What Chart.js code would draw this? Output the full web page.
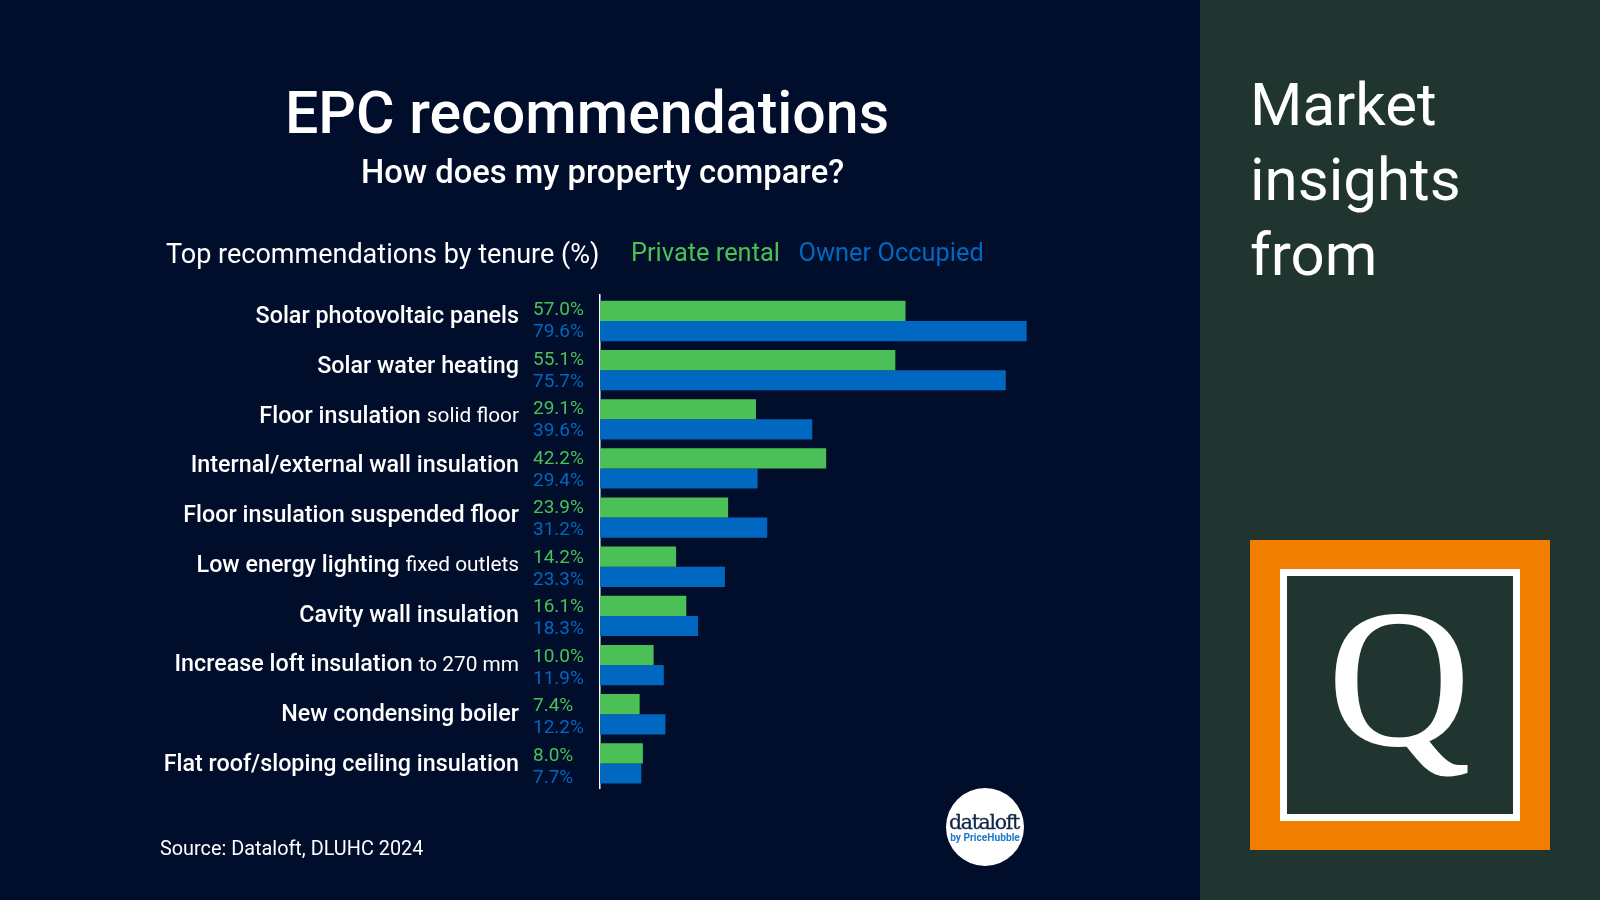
<!DOCTYPE html>
<html lang="en">
<head>
    <meta charset="UTF-8">
    <title>EPC recommendations</title>
    <script src="https://cdn.jsdelivr.net/npm/chart.js"></script>
    <style>
        html, body { margin: 0; padding: 0; background: #000d2b; }
        body { width: 1600px; height: 900px; overflow: hidden; position: relative; font-family: Roboto, sans-serif; color: #fff; }
        .txt { position: absolute; white-space: nowrap; line-height: 1; }
        #side { position: absolute; left: 1200px; top: 0; width: 400px; height: 900px; background: #20352f; }
        #logo { position: absolute; left: 1250px; top: 540px; width: 300px; height: 310px; background: #f27e00; }
        #logoIn { position: absolute; left: 30px; top: 29px; width: 226px; height: 238px; border: 7px solid #fff; background: #20352f; }
        #badge { position: absolute; left: 946px; top: 788px; width: 78px; height: 78px; border-radius: 50%; background: #fff; }
        canvas { position: absolute; left: 0; top: 0; }
    </style>
</head>
<body>
    <canvas id="epcChart" width="1200" height="900"></canvas>

    <div class="txt" style="left:285px;top:83px;font-size:59px;font-weight:500">EPC recommendations</div>
    <div class="txt" style="left:361px;top:156px;font-size:32.75px;font-weight:500">How does my property compare?</div>
    <div class="txt" style="left:166px;top:240.5px;font-size:27px">Top recommendations by tenure (%)</div>
    <div class="txt" style="left:631px;top:240px;font-size:25.4px;color:#4bc057">Private rental</div>
    <div class="txt" style="left:798.5px;top:240px;font-size:25.4px;color:#0068c0">Owner Occupied</div>
    <div class="txt" style="left:160px;top:839px;font-size:19.85px">Source: Dataloft, DLUHC 2024</div>

    <div id="badge"></div>
    <div class="txt" style="left:946px;top:812px;width:76px;text-align:center;font-family:'DejaVu Serif';font-size:20.5px;color:#12284a;letter-spacing:-1.3px;-webkit-text-stroke:0.3px #12284a">dataloft</div>
    <div class="txt" style="left:947px;top:833px;width:76px;text-align:center;font-size:10.2px;font-weight:700;color:#1f78c8">by PriceHubble</div>

    <div id="side"></div>
    <div class="txt" style="left:1250px;top:67px;font-size:60px;line-height:75px">Market<br>insights<br>from</div>
    <div id="logo"><div id="logoIn"></div></div>
    <div class="txt" style="left:1299px;top:580px;width:200px;text-align:center;font-family:'Liberation Serif';font-size:196px;-webkit-text-stroke:2px #fff">Q</div>

    <script>
        const categories = [
            'Solar photovoltaic panels',
            'Solar water heating',
            'Floor insulation',
            'Internal/external wall insulation',
            'Floor insulation suspended floor',
            'Low energy lighting',
            'Cavity wall insulation',
            'Increase loft insulation',
            'New condensing boiler',
            'Flat roof/sloping ceiling insulation'
        ];
        // lighter small text after some of the labels
        const labelNotes = ['', '', 'solid floor', '', '', 'fixed outlets', '', 'to 270 mm', '', ''];
        const privateRental = [57.0, 55.1, 29.1, 42.2, 23.9, 14.2, 16.1, 10.0, 7.4, 8.0];
        const ownerOccupied = [79.6, 75.7, 39.6, 29.4, 31.2, 23.3, 18.3, 11.9, 12.2, 7.7];

        const green = '#4bc057';
        const blue = '#0068c0';

        // row labels left of the axis, and the value next to them
        const rowText = {
            id: 'rowText',
            afterDatasetsDraw(chart) {
                const c = chart.ctx;
                const yScale = chart.scales.y;
                c.save();
                // axis line starts a little above the first row
                c.fillStyle = '#fff';
                c.fillRect(chart.chartArea.left - 1, 294, 1.5, chart.chartArea.top - 294);
                c.textBaseline = 'middle';
                categories.forEach((name, i) => {
                    const y = yScale.getPixelForValue(i) - 3.5 + i * 0.55;
                    let x = 519;
                    c.textAlign = 'right';
                    c.fillStyle = '#fff';
                    if (labelNotes[i]) {
                        c.font = '400 20.8px Roboto';
                        c.fillText(labelNotes[i], x, y);
                        x -= c.measureText(labelNotes[i]).width + 6;
                    }
                    c.font = '500 23.3px Roboto';
                    c.fillText(name, x, y);
                });
                c.textAlign = 'left';
                c.font = '400 19px Roboto';
                chart.data.datasets.forEach((ds, d) => {
                    c.fillStyle = ds.backgroundColor;
                    chart.getDatasetMeta(d).data.forEach((bar, i) => {
                        c.fillText(ds.data[i].toFixed(1) + '%', 533, bar.y + (d === 0 ? -0.5 : 1.5) + i * 0.33);
                    });
                });
                c.restore();
            }
        };

        new Chart(document.getElementById('epcChart'), {
            type: 'bar',
            data: {
                labels: categories,
                datasets: [
                    { label: 'Private rental', data: privateRental, backgroundColor: green },
                    { label: 'Owner Occupied', data: ownerOccupied, backgroundColor: blue }
                ]
            },
            options: {
                indexAxis: 'y',
                responsive: false,
                animation: false,
                layout: { padding: { left: 600, right: 64, top: 296.4, bottom: 112 } },
                categoryPercentage: 0.82,
                barPercentage: 1,
                scales: {
                    x: { display: false, min: 0, max: 100 },
                    y: {
                        grid: { display: false, drawTicks: false },
                        border: { color: '#fff', width: 1.5 },
                        ticks: { display: false }
                    }
                },
                plugins: { legend: { display: false }, tooltip: { enabled: false } }
            },
            plugins: [rowText]
        });
    </script>
</body>
</html>
